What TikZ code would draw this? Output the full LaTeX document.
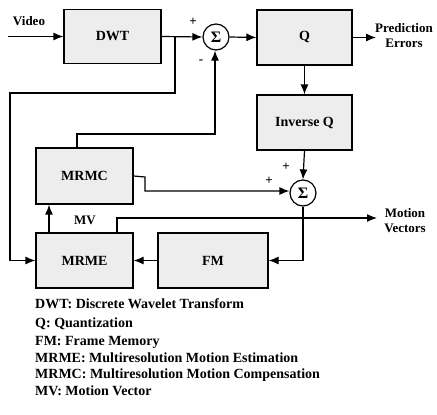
\documentclass[tikz,border=0pt]{standalone}
\usepackage{fontspec}
\setmainfont{Liberation Serif}
\usetikzlibrary{arrows.meta}
\begin{document}
\begin{tikzpicture}[x=1pt,y=-1pt,
  blk/.style={draw,line width=1.2pt,fill=gray!14,minimum width=#1,inner sep=0pt,font=\fontsize{14}{16}\bfseries\selectfont},
  sum/.style={draw,circle,line width=1.2pt,fill=white,minimum size=26pt,inner sep=0pt,font=\fontsize{16}{16}\bfseries\selectfont},
  con/.style={line width=1.2pt,-{Latex[length=10pt,width=8pt]}},
  lbl/.style={font=\fontsize{13}{15}\bfseries\selectfont,inner sep=0pt},
  leg/.style={font=\fontsize{14}{16}\bfseries\selectfont,inner sep=0pt,anchor=base west}]
\useasboundingbox (0,0) rectangle (437,415);
\node[blk=97pt,minimum height=54pt] (dwt) at (112.5,36.5) {DWT};
\node[blk=95pt,minimum height=55pt] (q) at (304.5,37.5) {Q};
\node[blk=95pt,minimum height=55pt] (iq) at (304.5,122.5) {Inverse Q};
\node[blk=97pt,minimum height=56pt] (mrmc) at (84.5,176) {MRMC};
\node[blk=97pt,minimum height=55pt] (mrme) at (84.5,260.5) {MRME};
\node[blk=110pt,minimum height=55pt] (fm) at (213,260.5) {FM};
\node[sum] (s1) at (216,37) {Σ};
\node[sum] (s2) at (303,193) {Σ};
% labels
\node[lbl] (video) at (29,21) {Video};
\coordinate (vin) at (8,36.5);
\node[lbl,align=center] (pe) at (404,36) {Prediction\\Errors};
\node[lbl,align=center] (mvs) at (405,221) {Motion\\Vectors};
\node[lbl] (mvl) at (85,220) {MV};
\node[lbl] (p1) at (193,22) {+};
\node[lbl] (m1) at (201,62) {-};
\node[lbl] (p2) at (286,167) {+};
\node[lbl] (p3) at (269,181) {+};
% connectors
\draw[con] (vin) -- (dwt.west);
\draw[con] (dwt.east) -- (s1.west);
\draw[con] (s1.east) -- (q.west);
\draw[con] (q.east) -- (376,37.5);
\draw[con] (q.south) -- (iq.north);
\draw[con] (iq.south) -- (s2.north);
\coordinate (br) at (175,36.5);
\draw[con] (br) -- (175,93) -- (10,93) |- (mrme.west);
\draw[con] (mrmc.north -| 77,0) -- (77,134) -- (215,134) -- (s1.south -| 215,0);
\draw[con] (mrmc.east) -- (145,177) -- (145,191) -- (s2.west |- 0,191);
\draw[con] (s2.south) |- (fm.east);
\draw[con] (fm.west) -- (mrme.east);
\draw[con] (mrme.north -| 49,0) -- (mrmc.south -| 49,0);
\draw[con] (mrme.north -| 117,0) -- (117,218) -- (377,218);
% legend
\node[leg] (l1) at (35,308) {DWT: Discrete Wavelet Transform};
\node[leg] (l2) at (35,327) {Q: Quantization};
\node[leg] (l3) at (35,345) {FM: Frame Memory};
\node[leg] (l4) at (35,362) {MRME: Multiresolution Motion Estimation};
\node[leg] (l5) at (35,378) {MRMC: Multiresolution Motion Compensation};
\node[leg] (l6) at (35,395) {MV: Motion Vector};
\end{tikzpicture}
\end{document}
